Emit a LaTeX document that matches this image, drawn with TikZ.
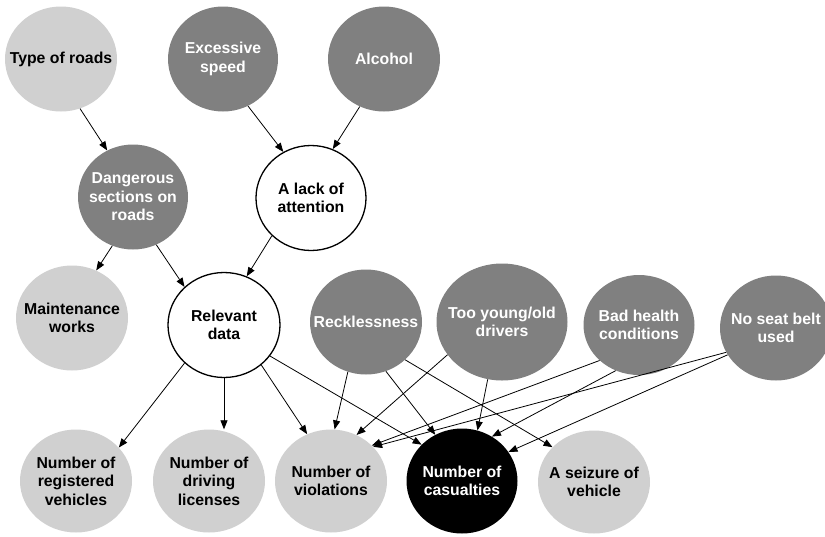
\documentclass[tikz,border=0pt]{standalone}
\usepackage{fontspec}
\setmainfont{Liberation Sans}
\usepackage{tikz}
\usetikzlibrary{shapes.geometric,arrows.meta,calc}
\definecolor{ink}{RGB}{0,0,0}
\definecolor{causedark}{HTML}{808080}
\definecolor{causelight}{HTML}{D0D0D0}

\begin{document}
\begin{tikzpicture}[x=1pt, y=-1pt,
  factor/.style={ellipse, minimum width=112pt, minimum height=105pt, inner xsep=-40pt, inner ysep=0pt, align=center, font=\bfseries\fontsize{15.8}{18.5}\selectfont},
  darkfactor/.style={factor, fill=causedark, text=white},
  lightfactor/.style={factor, fill=causelight, text=ink},
  openfactor/.style={factor, fill=white, draw=ink, line width=1.3pt, text=ink},
  outcome/.style={factor, fill=ink, text=white},
  flow/.style={-{Triangle[length=9pt, width=7pt]}, line width=0.8pt, draw=ink}]
  \useasboundingbox (0,0) rectangle (825,536);
  \node[lightfactor] (roadtype) at (61,59) {Type of roads};
  \node[darkfactor, minimum width=110pt] (speed) at (223,59) {Excessive\\speed};
  \node[darkfactor] (alcohol) at (384,59) {Alcohol};
  \node[darkfactor, minimum width=110pt] (dangerous) at (133,197) {Dangerous\\sections on\\roads};
  \node[openfactor, minimum width=110pt] (attention) at (311,198) {A lack of\\attention};
  \node[lightfactor] (maintenance) at (72,318) {Maintenance\\works};
  \node[openfactor] (relevant) at (224,325) {Relevant\\data};
  \node[darkfactor] (reckless) at (366,322) {Recklessness};
  \node[darkfactor, minimum width=131pt, minimum height=117pt] (youngold) at (502,322) {Too young/old\\drivers};
  \node[darkfactor, minimum width=111pt, minimum height=100pt] (health) at (639,325) {Bad health\\conditions};
  \node[darkfactor] (seatbelt) at (776,328) {No seat belt\\used};
  \node[lightfactor, minimum height=103pt] (registered) at (76,481) {Number of\\registered\\vehicles};
  \node[lightfactor, minimum height=103pt] (licenses) at (209,481) {Number of\\driving\\licenses};
  \node[lightfactor, minimum height=103pt] (violations) at (331,481) {Number of\\violations};
  \node[outcome, minimum width=111pt] (casualties) at (462,481) {Number of\\casualties};
  \node[lightfactor, minimum height=103pt] (seizure) at (594,482) {A seizure of\\vehicle};
  \draw[flow] (roadtype.291) -- (dangerous.119);
  \draw[flow] (speed.298) -- (attention.121);
  \draw[flow] (alcohol.243) -- (attention.66);
  \draw[flow] (dangerous.247) -- (maintenance.63);
  \draw[flow] (dangerous.296) -- (relevant.136);
  \draw[flow] (attention.224) -- (relevant.65);
  \draw[flow] (relevant.224) -- (registered.38);
  \draw[flow] (relevant.south) -- (relevant.south |- licenses.north);
  \draw[flow] (relevant.313) -- (violations.117);
  \draw[flow] (relevant.326) -- (casualties.138);
  \draw[flow] (reckless.250) -- (violations.86);
  \draw[flow] (reckless.292) -- (casualties.120);
  \draw[flow] (reckless.316) -- (seizure.140);
  \draw[flow] (youngold.211) -- (violations.61);
  \draw[flow] (youngold.256) -- (casualties.73);
  \draw[flow] (health.222) -- (violations.41);
  \draw[flow] (health.243) -- (casualties.56);
  \draw[flow] (seatbelt.206) -- (violations.39);
  \draw[flow] (seatbelt.209) -- (casualties.32);
\end{tikzpicture}
\end{document}
